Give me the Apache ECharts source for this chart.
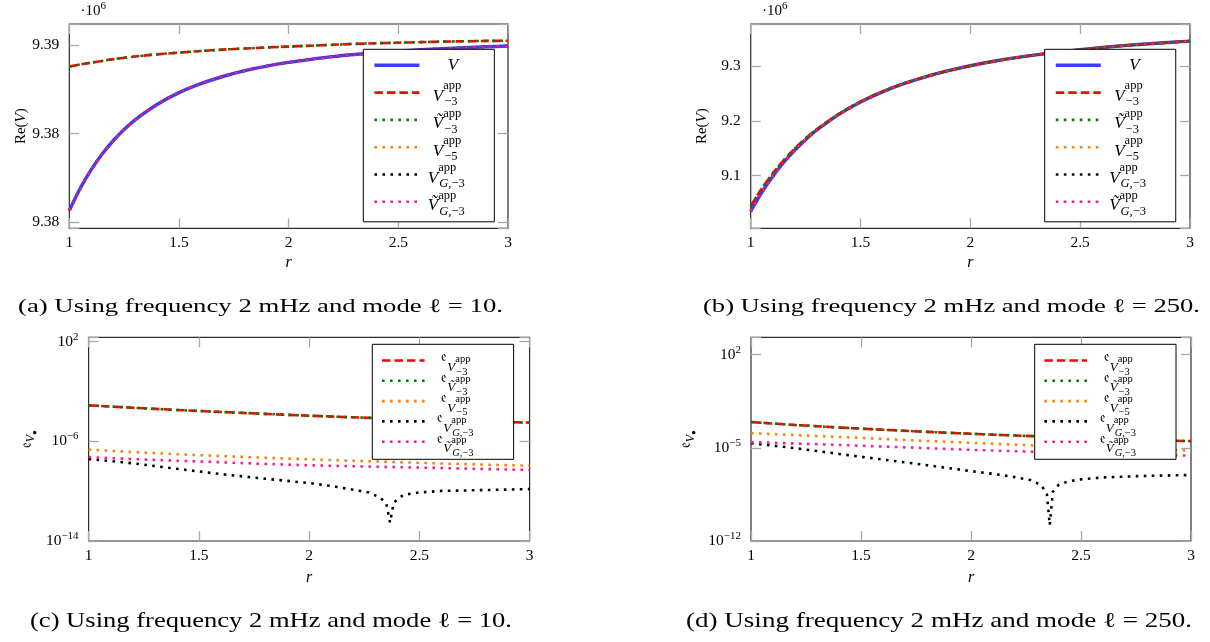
<!DOCTYPE html>
<html><head><meta charset="utf-8">
<script src="https://cdn.jsdelivr.net/npm/echarts@6/dist/echarts.min.js"></script>
<style>html,body{margin:0;padding:0;background:#fff}#c{width:1210px;height:642px}</style>
</head><body><div id="c"></div>
<script>
// ---------------- DATA ----------------
// radius samples for panels (a) and (b)
const rA = [1, 1.05, 1.1, 1.15, 1.2, 1.25, 1.3, 1.4, 1.5, 1.6, 1.7, 1.8, 1.9, 2.0, 2.1, 2.2, 2.3, 2.4, 2.5, 2.6, 2.7, 2.8, 2.9, 3.0];
// Panel (a): Re(V) in units of 10^6, mode l = 10
const reV_a  = [9.38065, 9.38191, 9.38296, 9.38384, 9.38459, 9.38522, 9.38577, 9.38664, 9.38731, 9.38782, 9.38822, 9.38855, 9.38881, 9.38902, 9.38919, 9.38934, 9.38946, 9.38956, 9.38965, 9.38973, 9.38979, 9.38985, 9.38990, 9.38994];
const reV3_a = [9.38878, 9.38890, 9.38900, 9.38910, 9.38920, 9.38928, 9.38935, 9.38947, 9.38957, 9.38966, 9.38974, 9.38980, 9.38986, 9.38991, 9.38996, 9.39001, 9.39006, 9.39010, 9.39013, 9.39016, 9.39019, 9.39021, 9.39023, 9.39024];
const reVt3_a = reV3_a;   // coincides with V^app_-3 in the picture
const reV5_a = reV_a;     // coincide with V in the picture
const reVG3_a = reV_a;
const reVtG3_a = reV_a;
// Panel (b): Re(V) in units of 10^6, mode l = 250
const reV_b  = [9.0346, 9.0688, 9.0982, 9.1237, 9.1460, 9.1655, 9.1827, 9.2114, 9.2344, 9.2530, 9.2683, 9.2810, 9.2916, 9.3007, 9.3084, 9.3150, 9.3207, 9.3257, 9.3301, 9.3340, 9.3375, 9.3405, 9.3433, 9.3457];
const reV3_b = [9.0441, 9.0758, 9.1034, 9.1277, 9.1490, 9.1677, 9.1843, 9.2123, 9.2349, 9.2533, 9.2685, 9.2811, 9.2916, 9.3007, 9.3084, 9.3150, 9.3207, 9.3257, 9.3301, 9.3340, 9.3375, 9.3405, 9.3433, 9.3457];
const reVt3_b = reV3_b;
const reV5_b = reV_b;
const reVG3_b = reV_b;
const reVtG3_b = reV_b;

// radius samples for the error panels (c) and (d)
const rE = [1, 1.2, 1.4, 1.6, 1.8, 2.0, 2.2, 2.4, 2.6, 2.8, 3.0];
// Panel (c): errors, mode l = 10
const e3_c   = [7.8e-4, 5.0e-4, 3.3e-4, 2.3e-4, 1.6e-4, 1.15e-4, 8.5e-5, 6.5e-5, 5.0e-5, 3.9e-5, 3.2e-5];
const et3_c  = e3_c;
const e5_c   = [2.19e-7, 1.38e-7, 9.3e-8, 6.6e-8, 4.8e-8, 3.6e-8, 2.75e-8, 2.14e-8, 1.66e-8, 1.35e-8, 1.12e-8];
const etG3_c = [5.4e-8, 3.8e-8, 2.8e-8, 2.1e-8, 1.55e-8, 1.2e-8, 1.0e-8, 8.5e-9, 7.2e-9, 6.0e-9, 5.0e-9];
const rG_c   = [1.0, 1.2, 1.4, 1.6, 1.8, 2.0, 2.1, 2.2, 2.27, 2.32, 2.35, 2.367, 2.383, 2.40, 2.43, 2.5, 2.6, 2.8, 3.0];
const eG3_c  = [3.9e-8, 1.74e-8, 6.3e-9, 2.34e-9, 1.0e-9, 4.5e-10, 2.6e-10, 1.32e-10, 7.9e-11, 3.2e-11, 1.05e-11, 3.0e-13, 1.05e-11, 2.3e-11, 5.2e-11, 7.9e-11, 1.05e-10, 1.23e-10, 1.48e-10];
// Panel (d): errors, mode l = 250
const e3_d   = [8.7e-4, 5.25e-4, 3.4e-4, 2.3e-4, 1.6e-4, 1.15e-4, 8.5e-5, 6.5e-5, 5.0e-5, 3.9e-5, 3.2e-5];
const et3_d  = e3_d;
const e5_d   = [1.29e-4, 9.1e-5, 6.6e-5, 4.7e-5, 3.3e-5, 2.4e-5, 1.74e-5, 1.32e-5, 1.02e-5, 7.9e-6, 6.3e-6];
const etG3_d = [2.7e-5, 2.14e-5, 1.66e-5, 1.26e-5, 9.5e-6, 7.1e-6, 5.6e-6, 4.6e-6, 3.7e-6, 3.1e-6, 2.6e-6];
const rG_d   = [1.0, 1.2, 1.4, 1.6, 1.8, 2.0, 2.1, 2.2, 2.27, 2.32, 2.345, 2.358, 2.372, 2.40, 2.45, 2.5, 2.6, 2.8, 3.0];
const eG3_d  = [2.24e-5, 9.5e-6, 3.5e-6, 1.32e-6, 5.0e-7, 1.78e-7, 1.12e-7, 6.3e-8, 3.8e-8, 1.58e-8, 3.2e-9, 1.58e-11, 5.0e-9, 1.78e-8, 3.2e-8, 4.3e-8, 6.0e-8, 7.9e-8, 9.1e-8];

// tick values and labels
const xTicks = [1, 1.5, 2, 2.5, 3];
const xTickLabels = ['1', '1.5', '2', '2.5', '3'];
const yTicksA = [9.38, 9.385, 9.39];
const yTickLabelsA = ['9.38', '9.38', '9.39'];
const yTicksB = [9.1, 9.2, 9.3];
const yTickLabelsB = ['9.1', '9.2', '9.3'];
const yExpC = [-14, -6, 2];
const yExpLabelsC = ['10{s|−14}', '10{s|−6}', '10{s|2}'];
const yExpD = [-12, -5, 2];
const yExpLabelsD = ['10{s|−12}', '10{s|−5}', '10{s|2}'];

// texts
const namesAB = ['V', 'V3', 'Vt3', 'V5', 'VG3', 'VtG3'];
const namesCD = ['e3', 'et3', 'e5', 'eG3', 'etG3'];
const legendTextAB = {
  V: '{p0|\u00a0}{V0|V}{sub|\u00a0}',
  V3: '{p|\u00a0}{V|V}{sup|app}{sub|−3}',
  Vt3: '{p|\u00a0}{V|Ṽ}{sup|app}{sub|−3}',
  V5: '{p|\u00a0}{V|V}{sup|app}{sub|−5}',
  VG3: '{pG|\u00a0}{V|V}{sup|app}{subi|G}{sub|,−3}',
  VtG3: '{pG|\u00a0}{V|Ṽ}{sup|app}{subi|G}{sub|,−3}'
};
const legendTextCD = {
  e3: '{p|\u00a0}{e|𝔢}{V|V}{sup|app}{sub|−3}',
  et3: '{p|\u00a0}{e|𝔢}{V|Ṽ}{sup|app}{sub|−3}',
  e5: '{p|\u00a0}{e|𝔢}{V|V}{sup|app}{sub|−5}',
  eG3: '{pG|\u00a0}{e|𝔢}{V|V}{sup|app}{subi|G}{sub|,−3}',
  etG3: '{pG|\u00a0}{e|𝔢}{V|Ṽ}{sup|app}{subi|G}{sub|,−3}'
};
const captionTexts = [
  '(a) Using frequency 2 mHz and mode ℓ = 10.',
  '(b) Using frequency 2 mHz and mode ℓ = 250.',
  '(c) Using frequency 2 mHz and mode ℓ = 10.',
  '(d) Using frequency 2 mHz and mode ℓ = 250.'
];

// ---------------- STYLE / LAYOUT ----------------
const SERIF = '"Liberation Serif","DejaVu Serif",serif';
const grids = [
  { left: 69.3, top: 24, width: 438.7, height: 204.3 },
  { left: 750.7, top: 24, width: 439.3, height: 204.3 },
  { left: 88.6, top: 337.3, width: 441, height: 203.7 },
  { left: 751, top: 337.3, width: 440, height: 203.7 }
];
const lineStyles = {
  V:    { color: '#3d3dff', width: 3.4, type: 'solid' },
  V3:   { color: '#ff0000', width: 2.6, type: [8.5, 4] },
  Vt3:  { color: '#008000', width: 2.6, type: [2.6, 5.4] },
  V5:   { color: '#ff8000', width: 2.6, type: [2.6, 5.4] },
  VG3:  { color: '#000000', width: 2.6, type: [2.6, 5.4] },
  VtG3: { color: '#ff1a8c', width: 2.6, type: [2.6, 5.4] }
};

const tickStyle = { show: true, inside: true, length: 10, lineStyle: { color: '#a8a8a8', width: 1.3 } };
const labelFont = { fontFamily: SERIF, fontSize: 15.5, color: '#000' };

function pts(xs, ys) { return xs.map((x, i) => [x, ys[i]]); }
function pick(ticks, labels, v, tol) {
  const i = ticks.findIndex(t => Math.abs(t - v) < tol);
  return i >= 0 ? labels[i] : '';
}

function xAxis(gi, pos, show, gap) {
  return {
    type: 'value', gridIndex: gi, position: pos,
    min: xTicks[0], max: xTicks[xTicks.length - 1], interval: xTicks[1] - xTicks[0],
    axisLine: { show: false }, axisTick: tickStyle, splitLine: { show: false },
    axisLabel: Object.assign({ show: show, margin: 7, formatter: v => pick(xTicks, xTickLabels, v, 1e-9) }, labelFont),
    name: show ? 'r' : '', nameLocation: 'middle', nameGap: gap,
    nameTextStyle: { fontFamily: SERIF, fontStyle: 'italic', fontSize: 16, color: '#000' }
  };
}
const reName = {
  name: '{r|Re(}{i|V}{r|)}', nameLocation: 'middle', nameRotate: 90,
  nameTextStyle: { color: '#000', rich: {
    r: { fontFamily: SERIF, fontSize: 15, color: '#000' },
    i: { fontFamily: SERIF, fontSize: 15, fontStyle: 'italic', color: '#000' } } }
};
const errName = {
  name: '{e|𝔢}{v|V}{b|●}', nameLocation: 'middle', nameRotate: 90,
  nameTextStyle: { color: '#000', rich: {
    e: { fontFamily: SERIF, fontSize: 16, color: '#000' },
    v: { fontFamily: SERIF, fontSize: 12, fontStyle: 'italic', color: '#000', padding: [9, 0, 0, 0] },
    b: { fontFamily: SERIF, fontSize: 8, color: '#000', padding: [16, 0, 0, 0] } } }
};
const supRich = { s: { fontFamily: SERIF, fontSize: 11, color: '#000', padding: [0, 0, 10, 0] } };

function yLin(gi, pos, show, min, max, split, ticks, labels, gap) {
  return Object.assign({
    type: 'value', gridIndex: gi, position: pos, min: min, max: max, splitNumber: split, scale: true,
    axisLine: { show: false }, axisTick: tickStyle, splitLine: { show: false },
    axisLabel: Object.assign({ show: show, margin: 10, formatter: v => pick(ticks, labels, v, 1e-7) }, labelFont),
    nameGap: gap
  }, show ? reName : {});
}
function yLog(gi, pos, show, exps, labels, maxVal, gap) {
  return Object.assign({
    type: 'log', logBase: 10, gridIndex: gi, position: pos,
    min: Math.pow(10, exps[0]), max: maxVal, interval: exps[1] - exps[0],
    axisLine: { show: false }, axisTick: tickStyle, splitLine: { show: false }, minorTick: { show: false },
    axisLabel: Object.assign({ show: show, margin: 10, rich: supRich,
      formatter: v => pick(exps, labels, Math.log10(v), 0.02) }, labelFont),
    nameGap: gap
  }, show ? errName : {});
}

const xAxes = [
  xAxis(0, 'bottom', true, 26), xAxis(1, 'bottom', true, 26), xAxis(2, 'bottom', true, 29), xAxis(3, 'bottom', true, 29),
  xAxis(0, 'top', false, 0), xAxis(1, 'top', false, 0), xAxis(2, 'top', false, 0), xAxis(3, 'top', false, 0)
];
const yAxes = [
  yLin(0, 'left', true, 9.379644, 9.391186, 2, yTicksA, yTickLabelsA, 41),
  yLin(1, 'left', true, 9.00336, 9.37706, 3, yTicksB, yTickLabelsB, 41),
  yLog(2, 'left', true, yExpC, yExpLabelsC, 226, 50),
  yLog(3, 'left', true, yExpD, yExpLabelsD, 2040, 53),
  yLin(0, 'right', false, 9.379644, 9.391186, 2, yTicksA, yTickLabelsA, 0),
  yLin(1, 'right', false, 9.00336, 9.37706, 3, yTicksB, yTickLabelsB, 0),
  yLog(2, 'right', false, yExpC, yExpLabelsC, 226, 0),
  yLog(3, 'right', false, yExpD, yExpLabelsD, 2040, 0)
];

function mk(name, styleKey, data, gi, smooth) {
  return {
    type: 'line', name: name, data: data, xAxisIndex: gi, yAxisIndex: gi,
    showSymbol: false, symbol: 'none', smooth: smooth, silent: true, animation: false,
    lineStyle: Object.assign({ cap: 'butt', join: 'round' }, lineStyles[styleKey])
  };
}
const series = [
  mk('V', 'V', pts(rA, reV_a), 0, 0.3), mk('V3', 'V3', pts(rA, reV3_a), 0, 0.3), mk('Vt3', 'Vt3', pts(rA, reVt3_a), 0, 0.3),
  mk('V5', 'V5', pts(rA, reV5_a), 0, 0.3), mk('VG3', 'VG3', pts(rA, reVG3_a), 0, 0.3), mk('VtG3', 'VtG3', pts(rA, reVtG3_a), 0, 0.3),
  mk('V', 'V', pts(rA, reV_b), 1, 0.3), mk('V3', 'V3', pts(rA, reV3_b), 1, 0.3), mk('Vt3', 'Vt3', pts(rA, reVt3_b), 1, 0.3),
  mk('V5', 'V5', pts(rA, reV5_b), 1, 0.3), mk('VG3', 'VG3', pts(rA, reVG3_b), 1, 0.3), mk('VtG3', 'VtG3', pts(rA, reVtG3_b), 1, 0.3),
  mk('e3', 'V3', pts(rE, e3_c), 2, false), mk('et3', 'Vt3', pts(rE, et3_c), 2, false), mk('e5', 'V5', pts(rE, e5_c), 2, false),
  mk('eG3', 'VG3', pts(rG_c, eG3_c), 2, false), mk('etG3', 'VtG3', pts(rE, etG3_c), 2, false),
  mk('e3', 'V3', pts(rE, e3_d), 3, false), mk('et3', 'Vt3', pts(rE, et3_d), 3, false), mk('e5', 'V5', pts(rE, e5_d), 3, false),
  mk('eG3', 'VG3', pts(rG_d, eG3_d), 3, false), mk('etG3', 'VtG3', pts(rE, etG3_d), 3, false)
];

// rich text pieces; each token has a fixed height so every legend row has the same height
const richAB = {
  p0: { width: 23.4, height: 10 }, p: { width: 8.4, height: 10 }, pG: { width: 3.4, height: 10 },
  V0: { fontFamily: SERIF, fontStyle: 'italic', fontSize: 17, height: 17, color: '#000' },
  V: { fontFamily: SERIF, fontStyle: 'italic', fontSize: 17, height: 17, color: '#000', padding: [8, 0, 0, 0] },
  sup: { fontFamily: SERIF, fontSize: 12.5, height: 12.5, color: '#000', width: 1, padding: [0, 0, 13, 0] },
  sub: { fontFamily: SERIF, fontSize: 12.5, height: 12.5, color: '#000', padding: [19, 0, 0, 0] },
  subi: { fontFamily: SERIF, fontStyle: 'italic', fontSize: 12.5, height: 12.5, color: '#000', padding: [19, 0, 0, 0] }
};
const richCD = {
  p: { width: 11.7, height: 10 }, pG: { width: 7.7, height: 10 },
  e: { fontFamily: SERIF, fontSize: 15, height: 15, color: '#000', padding: [0, 0, 6.2, 0] },
  V: { fontFamily: SERIF, fontStyle: 'italic', fontSize: 13, height: 13, color: '#000', padding: [14.4, 0, 0, 0] },
  sup: { fontFamily: SERIF, fontSize: 10.5, height: 10.5, color: '#000', width: 1, padding: [0, 0, 3, 0] },
  sub: { fontFamily: SERIF, fontSize: 10.5, height: 10.5, color: '#000', padding: [23.2, 0, 0, 0] },
  subi: { fontFamily: SERIF, fontStyle: 'italic', fontSize: 10.5, height: 10.5, color: '#000', padding: [23.2, 0, 0, 0] }
};
function legendAB(left) {
  return {
    data: namesAB, orient: 'vertical', left: left, top: 49.3, selectedMode: false,
    padding: [7.5, 29.7, 4, 9.4], itemGap: -1.7, itemWidth: 45, itemHeight: 14,
    backgroundColor: '#fff', borderColor: '#000', borderWidth: 1, borderRadius: 0,
    itemStyle: { opacity: 0 }, lineStyle: { width: 'inherit' },
    textStyle: { rich: richAB, fontFamily: SERIF, fontSize: 15, color: '#000' },
    formatter: n => legendTextAB[n]
  };
}
function legendCD(left) {
  return {
    data: namesCD, orient: 'vertical', left: left, top: 344.3, selectedMode: false,
    padding: [5.6, 40, 0.5, 8.4], itemGap: -7.4, itemWidth: 42.6, itemHeight: 14,
    backgroundColor: '#fff', borderColor: '#000', borderWidth: 1, borderRadius: 0,
    itemStyle: { opacity: 0 }, lineStyle: { width: 'inherit' },
    textStyle: { rich: richCD, fontFamily: SERIF, fontSize: 14, color: '#000' },
    formatter: n => legendTextCD[n]
  };
}

// captions: fit measured text into the reference boxes
const captionBoxes = [
  { x0: 18, x1: 503, y: 307, size: 19 },
  { x0: 703, x1: 1200, y: 307, size: 19 },
  { x0: 30, x1: 512, y: 621, size: 21 },
  { x0: 686, x1: 1192, y: 621, size: 21 }
];
const ctx = document.createElement('canvas').getContext('2d');
const graphics = captionTexts.map((t, i) => {
  const b = captionBoxes[i];
  const font = b.size + 'px "Liberation Serif"';
  ctx.font = font;
  const w = ctx.measureText(t).width;
  return { type: 'text', x: b.x0, y: b.y, scaleX: (b.x1 - b.x0) / w, silent: true,
    style: { text: t, font: font, fill: '#000', align: 'left', verticalAlign: 'middle' } };
});
[80.5, 761.9].forEach(x => graphics.push({
  type: 'text', x: x, y: 11, silent: true,
  style: { text: '·10{s|6}', fontFamily: SERIF, fontSize: 15, fill: '#000', verticalAlign: 'middle',
    rich: { s: { fontFamily: SERIF, fontSize: 11, fill: '#000', padding: [0, 0, 10, 0] } } }
}));

const chart = echarts.init(document.getElementById('c'), null, { renderer: 'canvas' });
chart.setOption({
  animation: false,
  backgroundColor: '#fff',
  grid: grids.map(g => Object.assign({ show: true, borderColor: '#2b2b2b', borderWidth: 1.2, backgroundColor: 'transparent', containLabel: false }, g)),
  xAxis: xAxes,
  yAxis: yAxes,
  legend: [legendAB(363.3), legendAB(1044.7), legendCD(372.3), legendCD(1034.7)],
  series: series,
  graphic: graphics
});
</script></body></html>
